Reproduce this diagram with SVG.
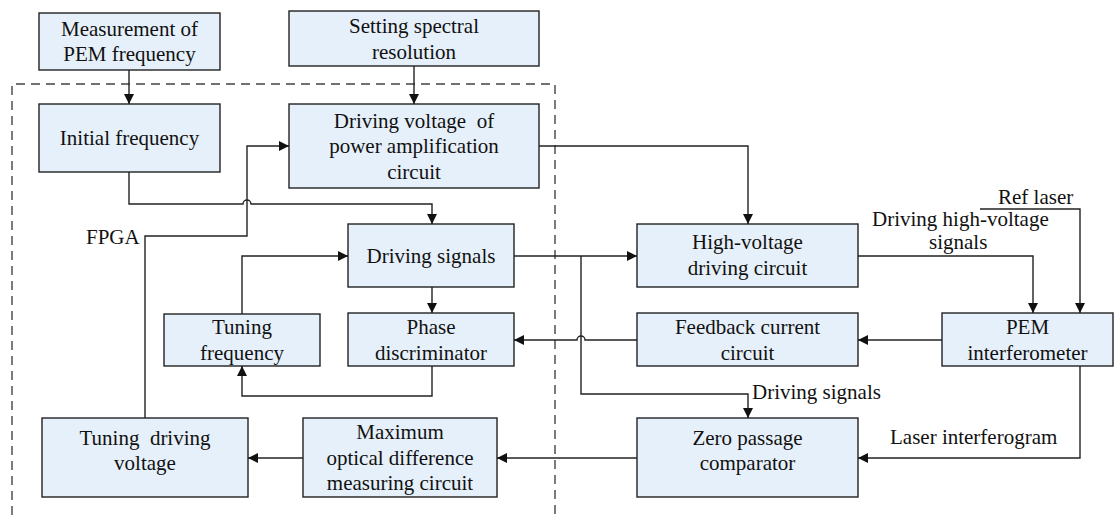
<svg xmlns="http://www.w3.org/2000/svg" width="1116" height="519" viewBox="0 0 1116 519">
<style>
.box{fill:#E6F0FA;stroke:#222;stroke-width:1.4}
.t{font-family:"Liberation Serif","Times New Roman",serif;font-size:21px;fill:#111;text-anchor:middle}
.l{font-family:"Liberation Serif","Times New Roman",serif;font-size:21px;fill:#111}
.c{fill:none;stroke:#222;stroke-width:1.4}
.a{marker-end:url(#arr)}
.dash{fill:none;stroke:#444;stroke-width:1.4;stroke-dasharray:9 6}
</style>
<defs>
<marker id="arr" viewBox="0 0 10 10" refX="10" refY="5" markerWidth="10" markerHeight="10" markerUnits="userSpaceOnUse" orient="auto">
<path d="M0,0 L10,5 L0,10 z" fill="#111"/>
</marker>
</defs>
<rect width="1116" height="519" fill="#fff"/>
<path class="dash" d="M12,530 V84 H555 V530"/>
<g id="n-measure"><rect class="box" x="39" y="13" width="181" height="57"/><text class="t" x="129.5" y="35.5">Measurement of</text><text class="t" x="129.5" y="61">PEM frequency</text></g>
<g id="n-setting"><rect class="box" x="289" y="11" width="250" height="55"/><text class="t" x="414" y="33">Setting spectral</text><text class="t" x="414" y="58.5">resolution</text></g>
<g id="n-initial"><rect class="box" x="39" y="104" width="181" height="68"/><text class="t" x="129.5" y="145">Initial frequency</text></g>
<g id="n-drvvolt"><rect class="box" x="289" y="104" width="250" height="84"/><text class="t" x="414" y="127.5" xml:space="preserve">Driving voltage  of</text><text class="t" x="414" y="153">power amplification</text><text class="t" x="414" y="178.5">circuit</text></g>
<g id="n-drvsig"><rect class="box" x="348" y="224" width="166" height="63"/><text class="t" x="431" y="262.5">Driving signals</text></g>
<g id="n-tunefreq"><rect class="box" x="164" y="314" width="156" height="52"/><text class="t" x="242" y="334">Tuning</text><text class="t" x="242" y="359.5">frequency</text></g>
<g id="n-phase"><rect class="box" x="348" y="313" width="166" height="53"/><text class="t" x="431" y="334">Phase</text><text class="t" x="431" y="359.5">discriminator</text></g>
<g id="n-tunedrv"><rect class="box" x="42" y="418" width="206" height="79"/><text class="t" x="145" y="444.5" xml:space="preserve">Tuning  driving</text><text class="t" x="145" y="470">voltage</text></g>
<g id="n-maxopt"><rect class="box" x="303" y="418" width="194" height="79"/><text class="t" x="400" y="439">Maximum</text><text class="t" x="400" y="464.5">optical difference</text><text class="t" x="400" y="490">measuring circuit</text></g>
<g id="n-hv"><rect class="box" x="637" y="224" width="221" height="63"/><text class="t" x="747.5" y="249">High-voltage</text><text class="t" x="747.5" y="274.5">driving circuit</text></g>
<g id="n-feedback"><rect class="box" x="637" y="313" width="221" height="53"/><text class="t" x="747.5" y="334">Feedback current</text><text class="t" x="747.5" y="359.5">circuit</text></g>
<g id="n-pem"><rect class="box" x="942" y="313" width="171" height="53"/><text class="t" x="1027.5" y="334">PEM</text><text class="t" x="1027.5" y="359.5">interferometer</text></g>
<g id="n-zero"><rect class="box" x="637" y="418" width="221" height="79"/><text class="t" x="747.5" y="444.5">Zero passage</text><text class="t" x="747.5" y="470">comparator</text></g>
<g id="connectors">
<path class="c a" d="M129,70 V104"/>
<path class="c a" d="M414,66 V104"/>
<path class="c a" d="M129,172 V204 H243 A4,4 0 0 1 251,204 H432 V224"/>
<path class="c a" d="M145,418 V236 H247 V146 H289"/>
<path class="c a" d="M242,314 V256 H348"/>
<path class="c a" d="M432,287 V313"/>
<path class="c a" d="M432,366 V396 H242 V366"/>
<path class="c a" d="M514,256 H637"/>
<path class="c a" d="M581,256 V394 H748 V418"/>
<path class="c a" d="M539,146 H748 V224"/>
<path class="c a" d="M858,256 H1033 V313"/>
<path class="c a" d="M980,209 H1080 V313"/>
<path class="c a" d="M942,340 H858"/>
<path class="c a" d="M637,340 H585 A4,4 0 0 0 577,340 H514"/>
<path class="c a" d="M1080,366 V458 H858"/>
<path class="c a" d="M637,458 H497"/>
<path class="c a" d="M303,458 H248"/>
</g>
<g id="labels">
<text class="l" x="86" y="244">FPGA</text>
<text class="l" x="998" y="204">Ref laser</text>
<text class="l" x="872" y="226">Driving high-voltage</text>
<text class="l" x="929" y="249">signals</text>
<text class="l" x="752" y="399">Driving signals</text>
<text class="l" x="890" y="444">Laser interferogram</text>
</g>
</svg>
